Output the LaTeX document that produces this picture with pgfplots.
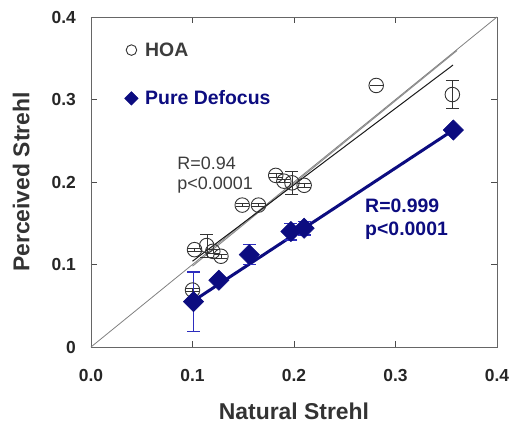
\documentclass[border=0pt]{standalone}
\usepackage{pgfplots}
\pgfplotsset{compat=1.18}
\usepackage{fontspec}
\setmainfont{Liberation Sans}
\definecolor{navy}{RGB}{12,12,128}
\definecolor{navyerr}{RGB}{45,45,190}
\definecolor{hoatext}{RGB}{60,60,60}
\begin{document}
\begin{tikzpicture}
\begin{axis}[
 scale only axis, width=406bp, height=330bp,
 xmin=0, xmax=0.4, ymin=0, ymax=0.4,
 xtick={0,0.1,0.2,0.3,0.4}, xticklabels={0.0,0.1,0.2,0.3,0.4},
 ytick={0,0.1,0.2,0.3,0.4}, yticklabels={0,0.1,0.2,0.3,0.4},
 tick align=inside, major tick length=6bp,
 axis line style={draw=black!60, line width=0.8bp},
 tick style={black!70, line width=0.8bp},
 ticklabel style={font=\fontsize{17.5}{20}\selectfont\bfseries, text=black!85},
 xticklabel style={inner sep=0pt, yshift=-22bp},
 yticklabel style={inner sep=0pt, xshift=-15bp},
 xlabel={Natural Strehl}, ylabel={Perceived Strehl},
 label style={font=\fontsize{23}{26}\selectfont\bfseries, text=black!80},
 xlabel style={at={(rel axis cs:0.5,-0.195)}, anchor=center},
 ylabel style={at={(rel axis cs:-0.172,0.5)}, anchor=center},
 clip=false,
 legend style={draw=none, fill=none, at={(axis cs:0.033,0.3705)}, anchor=north west,
   font=\fontsize{19.5}{22}\selectfont\bfseries, row sep=31bp, inner sep=0pt,
   nodes={inner sep=1bp}, /tikz/every odd column/.append style={column sep=6bp}},
 legend cell align=left,
]
% diagonal
\addplot[black!50, line width=0.8bp, forget plot] coordinates {(0,0) (0.4,0.4)};
% HOA regression lines
\addplot[black!45, line width=1bp, forget plot] coordinates {(0.100,0.098) (0.3606,0.3594)};
\addplot[black!90, line width=1bp, forget plot] coordinates {(0.100,0.104) (0.3567,0.3418)};
% HOA points
\addplot[only marks, mark=o, mark size=7.3pt, color=black!80, mark options={line width=0.9bp, fill=none},
  legend image post style={mark size=5.3pt},
  error bars/.cd, y dir=both, y explicit,
  error mark options={rotate=90, mark size=6.5pt, line width=0.8bp}]
 table[x=x, y=y, y error=e] {
x y e
0.100 0.069 0.002
0.102 0.118 0.002
0.114 0.123 0.014
0.120 0.116 0.002
0.128 0.110 0.002
0.149 0.172 0.002
0.165 0.172 0.002
0.182 0.208 0.002
0.190 0.201 0.002
0.198 0.199 0.014
0.210 0.196 0.002
0.281 0.317 0.000
0.356 0.306 0.017
};
\addlegendentry{\textcolor{hoatext}{HOA}}
% Pure defocus regression line
\addplot[navy, line width=3bp, forget plot] coordinates {(0.101,0.056) (0.357,0.263)};
% Pure defocus error bars (drawn separately)
\addplot[only marks, mark=none, draw=navyerr, color=navyerr, line width=1.5bp, forget plot,
  error bars/.cd, y dir=both, y explicit,
  error bar style={draw=navyerr, line width=1.5bp},
  error mark options={rotate=90, mark size=6.5pt, line width=1.5bp, draw=navyerr}]
 table[x=x, y=y, y error=e] {
x y e
0.101 0.055 0.036
0.156 0.112 0.012
0.197 0.140 0.010
0.210 0.144 0.008
};
% Pure defocus points
\addplot[only marks, color=navy, mark=square*, mark size=7.2pt,
  mark options={rotate=45, fill=navy, draw=navy, line width=0.5bp},
  legend image post style={mark size=4.8pt}]
 table[x=x, y=y] {
x y
0.101 0.055
0.126 0.081
0.156 0.112
0.197 0.140
0.210 0.144
0.357 0.263
};
\addlegendentry{\textcolor{navy}{Pure Defocus}}
\node[anchor=north west, align=left, inner sep=0pt, text=hoatext,
  font=\fontsize{18}{20}\selectfont] at (axis cs:0.085,0.230) {R=0.94\\p<0.0001};
\node[anchor=north west, align=left, inner sep=0pt, text=navy,
  font=\fontsize{19.5}{23}\selectfont\bfseries] at (axis cs:0.270,0.180) {R=0.999\\p<0.0001};
\end{axis}
\pgfresetboundingbox
\path (-91bp,-77bp) rectangle (423bp,347bp);
\end{tikzpicture}
\end{document}
